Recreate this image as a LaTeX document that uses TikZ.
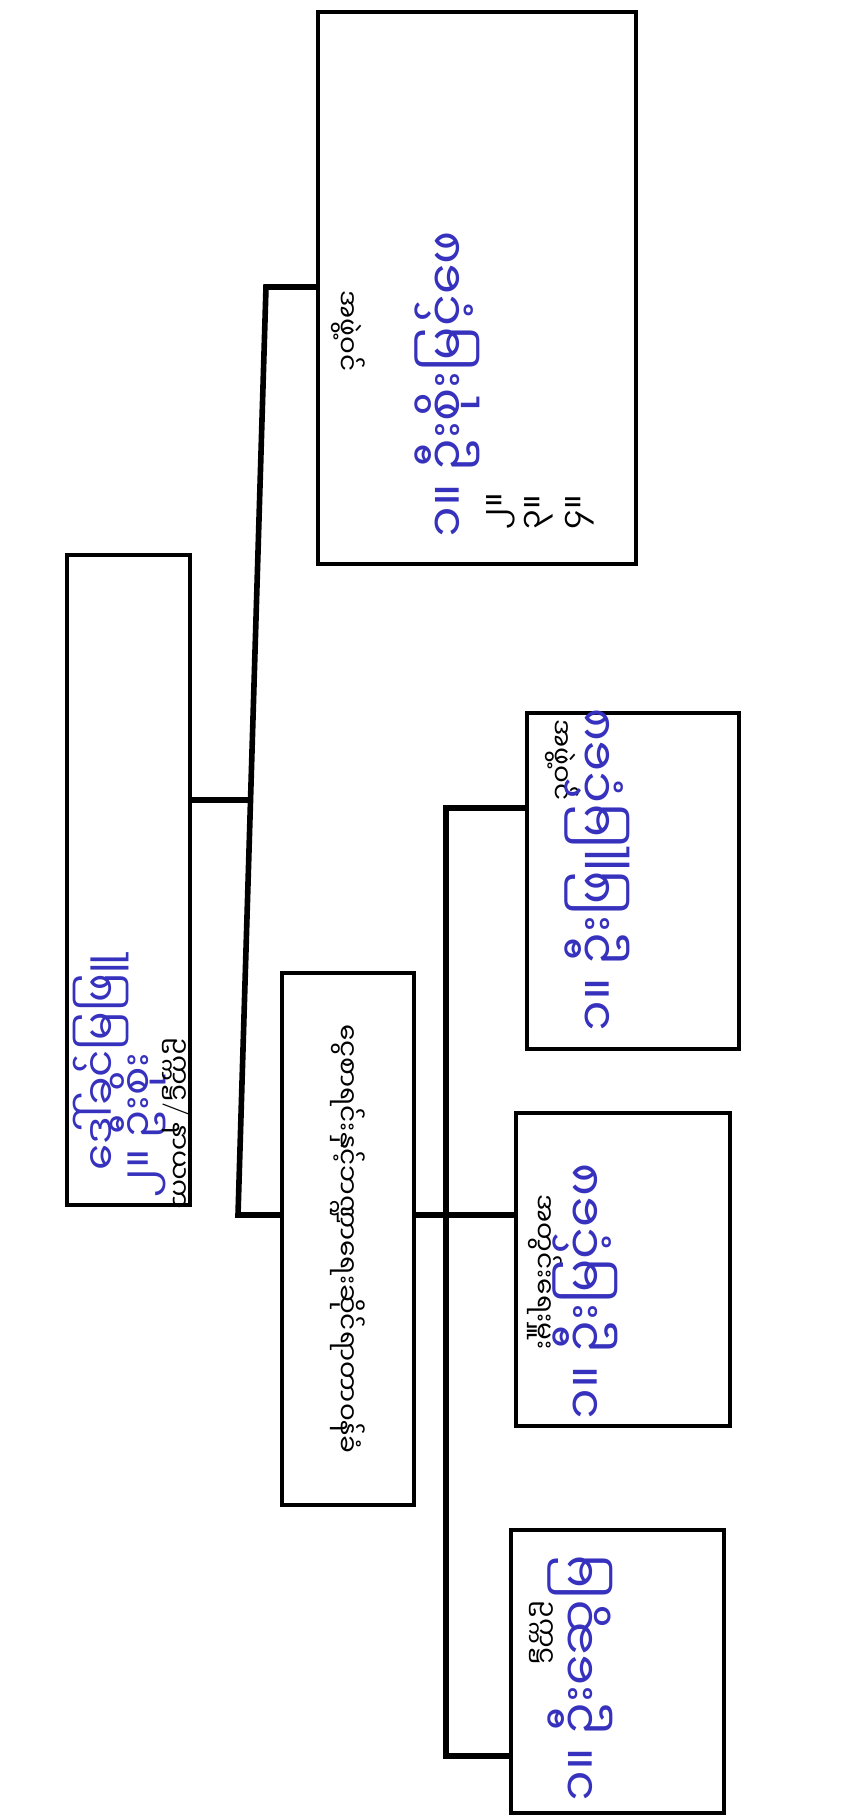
\documentclass[tikz,border=0pt]{standalone}
\usepackage{fontspec}
\newfontfamily\mmfont[Script=Myanmar]{Noto Sans Myanmar UI}
\usetikzlibrary{positioning, calc}
\definecolor{pen}{RGB}{55,50,190}

\begin{document}
\begin{tikzpicture}[
    box/.style={rectangle, draw, line width=0.9pt, inner sep=0pt},
    conn/.style={draw, line width=1.6pt},
    title/.style={rotate=-90, inner sep=0pt, font=\mmfont\fontsize{7.5}{9}\selectfont},
    person/.style={rotate=90, inner sep=0pt, text=pen, font=\mmfont\fontsize{14}{17}\selectfont},
    num/.style={rotate=90, inner sep=0pt, font=\mmfont\fontsize{9}{11}\selectfont}
]
\useasboundingbox (0,0) rectangle (8.67,-18.17);

% Boxes
\node[box, minimum width=3.18cm, minimum height=5.52cm] (members) at (4.77,-2.88) {};
\node[box, minimum width=1.23cm, minimum height=6.50cm] (head) at (1.285,-8.80) {};
\node[box, minimum width=1.32cm, minimum height=5.32cm] (dept) at (3.48,-12.39) {};
\node[box, minimum width=2.12cm, minimum height=3.36cm] (unita) at (6.33,-8.81) {};
\node[box, minimum width=2.14cm, minimum height=3.13cm] (unitb) at (6.23,-12.695) {};
\node[box, minimum width=2.13cm, minimum height=2.83cm] (unitc) at (6.175,-16.715) {};

% Texts
\node[title, anchor=west] (tmembers) at (3.48,-2.90) {အဖွဲ့ဝင်};
\node[person, anchor=west] (pm1) at (4.47,-5.38) {၁။ ဦးစိုးမြင့်ဖေ};
\node[num, anchor=west] (pm2) at (5.01,-5.30) {၂။};
\node[num, anchor=west] (pm3) at (5.39,-5.30) {၃။};
\node[num, anchor=west] (pm4) at (5.80,-5.30) {၄။};

\node[person, anchor=west, font=\mmfont\fontsize{12}{14}\selectfont] (ph1) at (1.01,-11.71) {ဒေါ်ခင်မြဖြူ};
\node[person, anchor=west, font=\mmfont\fontsize{12}{14}\selectfont] (ph2) at (1.38,-11.98) {၂။ ဦးစိုး};
\node[title, anchor=west] (thead) at (1.76,-10.37) {ဥက္ကဋ္ဌ{\normalfont\fontsize{7.5}{9}\selectfont/} နာယက};

\node[title] (tdept) at (3.48,-12.39) {ငွေစာရင်းနှင့်ဘဏ္ဍာရေးဆိုင်ရာတာဝန်ခံ};

\node[title, anchor=west] (tunita) at (5.62,-7.19) {အဖွဲ့ဝင်};
\node[person, anchor=west] (pa) at (5.97,-10.32) {၁။ ဦးဖြူမြင့်ဖေ};
\node[title, anchor=west] (tunitb) at (5.45,-11.94) {အတွင်းရေးမှူး};
\node[person, anchor=west] (pb) at (5.85,-14.20) {၁။ ဦးမြင့်ဖေ};
\node[title, anchor=west] (tunitc) at (5.41,-16.00) {ဥက္ကဋ္ဌ};
\node[person, anchor=west] (pc) at (5.80,-18.02) {၁။ ဦးဆွေမြ};

% Paths
\coordinate (jtop) at (2.66,-2.87);
\coordinate (jdept) at (2.38,-12.15);
\coordinate (jhead) at ($(jtop)!0.553!(jdept)$);
\coordinate (ka) at (4.46,-8.08);
\coordinate (kb) at (4.46,-12.15);
\coordinate (kc) at (4.46,-17.56);
\path[conn] (members.west |- jtop) -- (jtop) -- (jdept) -- (dept.west |- jdept);
\path[conn] (head.east |- jhead) -- (jhead);
\path[conn] (dept.east |- kb) -- (kb);
\path[conn] (unita.west |- ka) -- (ka) -- (kc) -- (unitc.west |- kc);
\path[conn] (kb) -- (unitb.west |- kb);
\end{tikzpicture}
\end{document}
